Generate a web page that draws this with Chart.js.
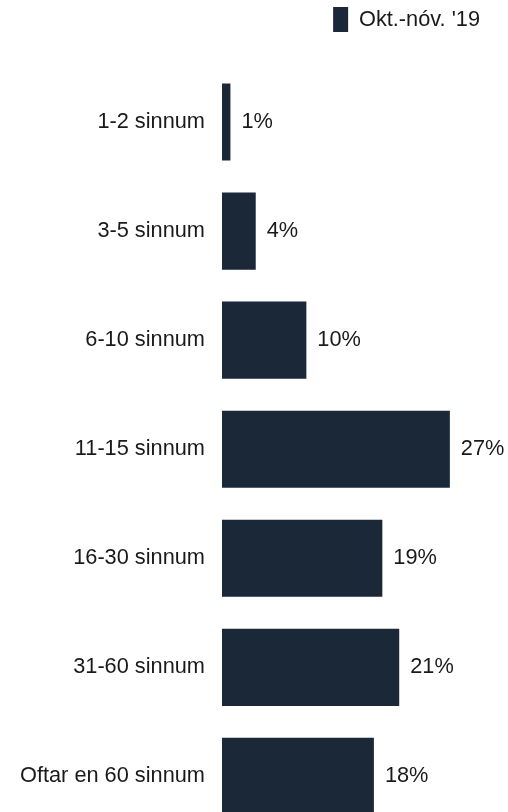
<!DOCTYPE html>
<html>
<head>
<meta charset="utf-8">
<script src="https://cdn.jsdelivr.net/npm/chart.js@4"></script>
<style>
    html, body { margin: 0; padding: 0; background: #fff; overflow: hidden; }
    #wrap { width: 508px; height: 861px; }
</style>
</head>
<body>
<div id="wrap"><canvas id="freqChart" width="508" height="861"></canvas></div>
<script>
const categories = ["1-2 sinnum", "3-5 sinnum", "6-10 sinnum", "11-15 sinnum", "16-30 sinnum", "31-60 sinnum", "Oftar en 60 sinnum"];
const seriesName = "Okt.-nóv. '19";
const values = [1, 4, 10, 27, 19, 21, 18];

const barColor = "#1b2838";
const textColor = "#1a1a1a";
const fontFamily = "'Liberation Sans', Arial, sans-serif";
const fontSize = 21.75;

// write the % value just right of each bar
const valueLabels = {
    id: "valueLabels",
    afterDatasetsDraw(chart) {
        const ctx = chart.ctx;
        const meta = chart.getDatasetMeta(0);
        ctx.save();
        ctx.font = fontSize + "px " + fontFamily;
        ctx.fillStyle = textColor;
        ctx.textAlign = "left";
        ctx.textBaseline = "middle";
        meta.data.forEach((bar, i) => {
            ctx.fillText(values[i] + "%", bar.x + 11, bar.y);
        });
        ctx.restore();
    }
};

// extra room under the legend
const legendSpace = {
    id: "legendSpace",
    beforeInit(chart) {
        const fit = chart.legend.fit;
        chart.legend.fit = function () {
            fit.bind(chart.legend)();
            this.height += 25.5;
        };
    }
};

const ctx = document.getElementById("freqChart").getContext("2d");
new Chart(ctx, {
    type: "bar",
    data: {
        labels: categories,
        datasets: [{
            label: seriesName,
            data: values,
            backgroundColor: barColor,
            borderWidth: 0,
            barPercentage: 0.707,
            categoryPercentage: 1
        }]
    },
    options: {
        indexAxis: "y",
        responsive: false,
        animation: false,
        devicePixelRatio: 1,
        layout: { padding: { left: 3, right: 21, top: 0, bottom: 0 } },
        scales: {
            x: { display: false, min: 0, max: 31.4 },
            y: {
                grid: { display: false, drawTicks: false },
                border: { display: false },
                ticks: { padding: 17, color: textColor, font: { family: fontFamily, size: fontSize } }
            }
        },
        plugins: {
            legend: {
                position: "top",
                align: "end",
                labels: {
                    boxWidth: 15,
                    boxHeight: 25,
                    padding: 7,
                    color: textColor,
                    font: { family: fontFamily, size: fontSize }
                }
            },
            tooltip: { enabled: false }
        }
    },
    plugins: [valueLabels, legendSpace]
});
</script>
</body>
</html>
